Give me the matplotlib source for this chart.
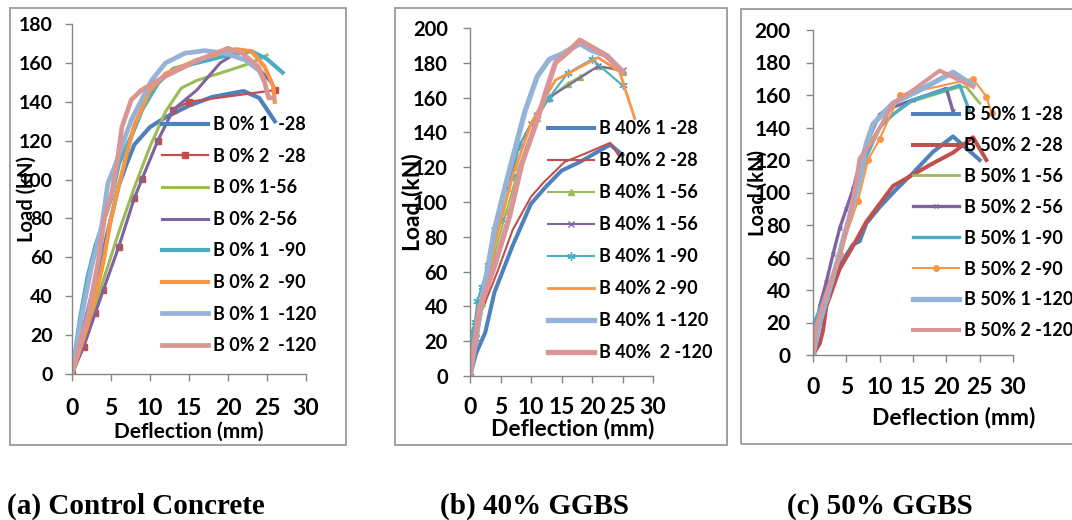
import matplotlib
matplotlib.use("Agg")
import matplotlib.pyplot as plt
from matplotlib.patches import Rectangle

plt.rcParams['font.family'] = ['Lato', 'DejaVu Sans']
plt.rcParams['font.weight'] = 'bold'

# ---------------- (a) Control concrete ----------------
a_labels = ["B 0% 1  -28", "B 0% 2  -28", "B 0% 1-56", "B 0% 2-56",
            "B 0% 1  -90", "B 0% 2  -90", "B 0% 1  -120", "B 0% 2  -120"]
a1_28_x = [0, 1, 2, 3, 4, 5, 6, 7, 8, 10, 12, 15, 18, 22, 24, 25, 26]
a1_28_y = [0, 16, 32, 48, 63, 80, 97, 108, 118, 127, 132, 138, 142.5, 145.5, 142, 136, 130]
a2_28_x = [0, 1.5, 3, 4, 6, 8, 9, 11, 13, 15, 26]
a2_28_y = [0, 14, 31.5, 43, 65.5, 90.5, 100.5, 120, 136, 140, 146]
a1_56_x = [0, 2, 4, 6, 8, 10, 12, 14, 16, 20, 23, 25]
a1_56_y = [0, 22, 48, 73, 96, 117, 135, 147, 151, 156, 160, 164]
a2_56_x = [0, 1.5, 3, 4, 6, 8, 9, 11, 13, 16, 19, 21, 22, 24, 25.5]
a2_56_y = [0, 14, 31.5, 43, 65.5, 90.5, 100.5, 120, 136, 146, 160, 165, 165, 157, 150]
a1_90_x = [0, 1, 2, 3, 4, 5, 6, 8, 9, 11, 13, 16, 20, 23, 25, 27]
a1_90_y = [0, 28, 50, 66, 78, 90, 108, 126, 136, 149.5, 157, 160, 164, 166, 162, 155]
a2_90_x = [0, 2, 3, 4, 5, 6, 7, 8, 10, 12, 16, 21, 23, 24.7, 25.8, 26]
a2_90_y = [0, 25, 40, 57, 80, 97, 113, 128, 146, 154.5, 161.5, 167, 166, 158, 148, 140]
a1_120_x = [0, 1, 2.5, 3.8, 4.6, 5.5, 7.6, 10.2, 12, 14.5, 17, 19.6, 22.2, 24, 24.5]
a1_120_y = [0, 25, 55, 76, 98, 107, 130.6, 151, 160, 165, 166.3, 165, 161.5, 156, 152]
a2_120_x = [0, 0.4, 1.5, 2.1, 3.4, 4.2, 5.1, 5.9, 6.4, 7.6, 8.9, 11.9, 16.2, 20, 21.8, 23.9, 24.7, 25.2, 25.8]
a2_120_y = [0, 5.6, 22.6, 31.2, 58.6, 81, 93, 112, 127, 141, 146, 153, 161.5, 167.5, 165, 158, 150, 142, 142]

# ---------------- (b) 40% GGBS ----------------
b_labels = ["B 40% 1 -28", "B 40% 2 -28", "B 40% 1 -56", "B 40% 1 -56",
            "B 40% 1 -90", "B 40% 2 -90", "B 40% 1 -120", "B 40%  2 -120"]
b1_28_x = [0, 1, 2.5, 4, 7, 10, 12.5, 15, 18, 20, 23, 25]
b1_28_y = [0, 13, 25, 48, 75, 99, 109, 118, 123, 127, 133, 127]
b2_28_x = [0, 0.5, 2, 4.5, 7, 10, 12, 15.5, 19, 23, 24.5]
b2_28_y = [0, 12, 38, 60, 84, 103, 111, 123, 128, 134, 126]
b1_56_x = [0, 1, 2, 4, 6, 8, 11, 13, 16, 18, 21, 25]
b1_56_y = [0, 25, 42, 70, 95, 120, 148, 160, 168, 172, 178, 175]
b1_56b_x = [0, 1, 2, 4, 6, 8, 10, 11, 13, 21, 25]
b1_56b_y = [0, 22, 45, 84, 108, 132, 145, 150, 160, 178, 176]
b1_90_x = [0, 0.2, 0.4, 0.8, 1.2, 1.9, 3, 5, 7, 8, 11, 13, 16, 20, 25]
b1_90_y = [0, 10, 26, 31, 43, 51, 64, 90, 115, 132, 150, 160, 174, 182, 167]
b2_90_x = [0, 2, 4, 7, 10, 12, 14, 21, 24.5, 27]
b2_90_y = [0, 40, 75, 115, 145, 158, 170, 183, 175, 148]
b1_120_x = [0, 2, 4, 6, 7.5, 9, 11, 13, 15, 18, 20, 22.5, 25]
b1_120_y = [0, 44, 84, 112, 132, 152, 172, 182, 185, 191, 187, 184, 175]
b2_120_x = [0, 1.5, 4, 6.5, 8.5, 11, 12.5, 14, 16, 18, 22, 25]
b2_120_y = [0, 38, 63, 92, 122, 147, 164, 180, 186, 193, 185, 175]

# ---------------- (c) 50% GGBS ----------------
c_labels = ["B 50% 1 -28", "B 50% 2 -28", "B 50% 1 -56", "B 50% 2 -56",
            "B 50% 1 -90", "B 50% 2 -90", "B 50% 1 -120", "B 50% 2 -120"]
c1_28_x = [0, 1, 2, 4, 6, 7, 8, 10, 12.5, 15, 18, 21, 25]
c1_28_y = [0, 20, 35, 55, 68, 70, 81, 91, 102, 112, 125, 134.5, 120]
c2_28_x = [0, 1, 1.5, 2, 4, 6, 8, 10, 12, 15, 18, 21, 24, 26]
c2_28_y = [0, 7, 15, 30, 53, 67, 82, 93, 104, 111, 118, 124.5, 134, 120]
c1_56_x = [0, 1, 2, 4, 6, 7, 8, 10, 12, 14, 18, 22, 23, 25]
c1_56_y = [0, 20, 35, 62, 92, 115, 128, 140, 148, 155, 160, 165, 165, 155]
c2_56_x = [0, 1, 2, 3, 4, 5, 6, 7, 8, 10, 11, 15, 20, 21]
c2_56_y = [0, 30, 45, 62, 78, 90, 102, 118, 130, 148, 151, 157, 164, 150]
c1_90_x = [0, 0.1, 2, 4, 6, 8, 10, 12, 15, 19, 22, 23.5]
c1_90_y = [0, 19, 38, 62, 92, 122, 140, 148, 157, 162, 166, 150]
c2_90_x = [0, 2, 4, 6.75, 8.25, 10, 13, 24, 26, 26.8]
c2_90_y = [0, 35, 62, 95, 120, 133, 160, 170, 159, 149]
c1_120_x = [0, 1, 3, 5, 7, 8, 9, 12, 16, 21, 24]
c1_120_y = [0, 20, 48, 78, 108, 130, 142, 155, 163, 174, 166]
c2_120_x = [0, 0.5, 2, 4, 5.5, 6.5, 7, 9, 12, 15, 19, 24]
c2_120_y = [0, 18, 38, 60, 85, 108, 121, 132, 155, 163, 175, 165]

captions = ["(a) Control Concrete", "(b) 40% GGBS", "(c) 50% GGBS"]

BLUE, RED, GREEN, PURPLE = "#4F81BD", "#C0504D", "#9BBB59", "#8064A2"
TEAL, ORANGE, LBLUE, PINK = "#4BACC6", "#F79646", "#95B3D7", "#D99694"
AXIS_GRAY = "#868686"

W, H = 1072, 520
fig = plt.figure(figsize=(W / 100, H / 100), dpi=100)


def px_axes(l, t, r, b):
    return fig.add_axes([l / W, 1 - b / H, (r - l) / W, (b - t) / H])


def frame(l, t, r, b):
    fig.patches.append(Rectangle((l / W, 1 - b / H), (r - l) / W, (b - t) / H,
                                 transform=fig.transFigure, fill=False,
                                 edgecolor="#9a9a9a", linewidth=1.3))


def style(ax, ymax, ytick_size, xtick_size, ypad, xpad):
    ax.set_xlim(0, 30)
    ax.set_ylim(0, ymax)
    ax.set_xticks(range(0, 31, 5))
    ax.set_yticks(range(0, ymax + 1, 20))
    for s in ("top", "right"):
        ax.spines[s].set_visible(False)
    for s in ("left", "bottom"):
        ax.spines[s].set_color(AXIS_GRAY)
        ax.spines[s].set_linewidth(1.0)
    ax.tick_params(axis="y", direction="out", length=5, width=1, color=AXIS_GRAY,
                   labelsize=ytick_size, pad=ypad)
    ax.tick_params(axis="x", direction="out", length=5, width=1, color=AXIS_GRAY,
                   labelsize=xtick_size, pad=xpad)
    for lab in ax.get_xticklabels() + ax.get_yticklabels():
        lab.set_fontweight("bold")


def legend(ax, x_px, y_px, spacing):
    ax.legend(loc="upper left", bbox_to_anchor=(x_px / W, 1 - y_px / H),
              bbox_transform=fig.transFigure, frameon=False,
              handlelength=2.55, handletextpad=0.28, labelspacing=spacing,
              borderpad=0, borderaxespad=0, prop={"weight": "bold", "size": 13})


# ---- panel (a)
frame(10, 8, 346, 445)
axa = px_axes(72, 24, 306, 374)
axa.plot(a1_28_x, a1_28_y, color=BLUE, lw=3.0, label=a_labels[0])
axa.plot(a2_28_x, a2_28_y, color=RED, lw=1.6, marker="s", ms=4, label=a_labels[1])
axa.plot(a1_56_x, a1_56_y, color=GREEN, lw=2.2, label=a_labels[2])
axa.plot(a2_56_x, a2_56_y, color=PURPLE, lw=2.2, label=a_labels[3])
axa.plot(a1_90_x, a1_90_y, color=TEAL, lw=3.0, label=a_labels[4])
axa.plot(a2_90_x, a2_90_y, color=ORANGE, lw=3.0, label=a_labels[5])
axa.plot(a1_120_x, a1_120_y, color=LBLUE, lw=3.4, label=a_labels[6])
axa.plot(a2_120_x, a2_120_y, color=PINK, lw=3.4, label=a_labels[7])
style(axa, 180, 14, 16.5, 9, 12)
axa.set_xlabel("Deflection (mm)", fontsize=15, fontweight="bold")
axa.set_ylabel("Load (kN)", fontsize=14.5, fontweight="bold")
axa.xaxis.set_label_coords(0.5, -0.136)
axa.yaxis.set_label_coords(-0.15, 0.5)
legend(axa, 162, 116, 0.81)

# ---- panel (b)
frame(395, 8, 727, 445)
axb = px_axes(470, 28, 653, 376)
axb.plot(b1_28_x, b1_28_y, color=BLUE, lw=2.9, label=b_labels[0])
axb.plot(b2_28_x, b2_28_y, color=RED, lw=1.5, label=b_labels[1])
axb.plot(b1_56_x, b1_56_y, color=GREEN, lw=1.5, marker="^", ms=4, label=b_labels[2])
axb.plot(b1_56b_x, b1_56b_y, color=PURPLE, lw=1.5, marker="x", ms=4, label=b_labels[3])
axb.plot(b1_90_x, b1_90_y, color=TEAL, lw=1.5, marker=(6, 2, 0), ms=6, label=b_labels[4])
axb.plot(b2_90_x, b2_90_y, color=ORANGE, lw=2.0, label=b_labels[5])
axb.plot(b1_120_x, b1_120_y, color=LBLUE, lw=3.8, label=b_labels[6])
axb.plot(b2_120_x, b2_120_y, color=PINK, lw=3.8, label=b_labels[7])
style(axb, 200, 14.5, 16.5, 11, 10)
axb.set_xlabel("Deflection (mm)", fontsize=16.5, fontweight="bold")
axb.set_ylabel("Load (kN)", fontsize=16.5, fontweight="bold")
axb.xaxis.set_label_coords(0.56, -0.121)
axb.yaxis.set_label_coords(-0.257, 0.5)
legend(axb, 548, 120, 0.83)

# ---- panel (c)
frame(741, 9, 1080, 444)
axc = px_axes(813, 30, 1013, 355)
axc.plot(c1_28_x, c1_28_y, color=BLUE, lw=2.9, label=c_labels[0])
axc.plot(c2_28_x, c2_28_y, color=RED, lw=2.9, label=c_labels[1])
axc.plot(c1_56_x, c1_56_y, color=GREEN, lw=2.0, label=c_labels[2])
axc.plot(c2_56_x, c2_56_y, color=PURPLE, lw=2.4, marker="x", ms=3.5, label=c_labels[3])
axc.plot(c1_90_x, c1_90_y, color=TEAL, lw=2.4, label=c_labels[4])
axc.plot(c2_90_x, c2_90_y, color=ORANGE, lw=1.5, marker="o", ms=4, label=c_labels[5])
axc.plot(c1_120_x, c1_120_y, color=LBLUE, lw=3.8, label=c_labels[6])
axc.plot(c2_120_x, c2_120_y, color=PINK, lw=2.9, label=c_labels[7])
style(axc, 200, 15, 16.5, 11, 11)
axc.set_xlabel("Deflection (mm)", fontsize=16.5, fontweight="bold")
axc.set_ylabel("Load (kN)", fontsize=14.5, fontweight="bold")
axc.xaxis.set_label_coords(0.705, -0.159)
axc.yaxis.set_label_coords(-0.225, 0.5)
legend(axc, 913, 106, 0.77)

# ---- captions
for text, x_px in zip(captions, [7, 440, 787]):
    fig.text(x_px / W, 1 - 514 / H, text, family="Liberation Serif",
             fontweight="bold", fontsize=21, ha="left", va="baseline")

fig.savefig("out.png", dpi=100)
